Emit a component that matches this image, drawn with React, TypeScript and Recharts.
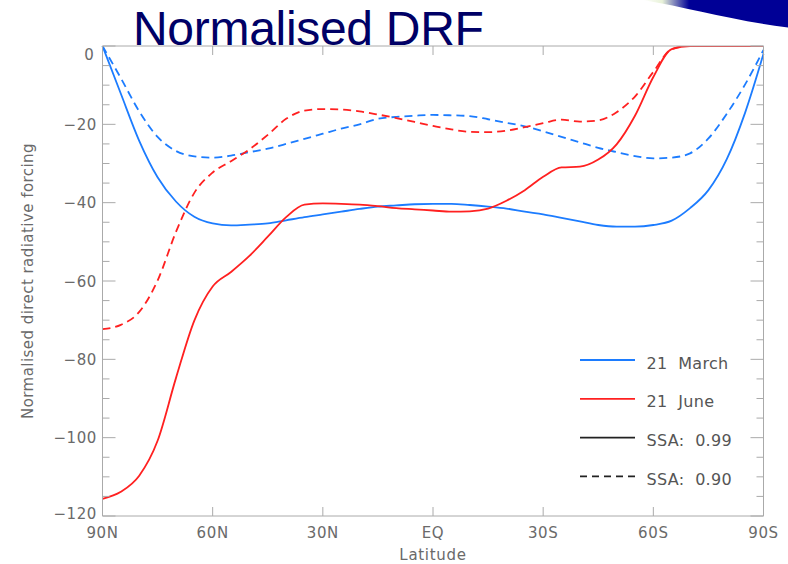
import React from 'react';
import { LineChart, Line, XAxis, YAxis, Legend, Customized } from 'recharts';

// Latitude from 90N (left) to 90S (right)
const latitude = [90, 85, 80, 75, 70, 65, 60, 55, 50, 45, 40, 35, 30, 25, 20, 15, 10, 5, 0,
  -5, -10, -15, -20, -25, -30, -35, -40, -45, -50, -55, -60, -65, -70, -75, -80, -85, -90];

// 21 March, SSA 0.99 (solid blue)
const march099 = [0, -12.2, -24.2, -33.5, -39.7, -43.6, -45.3, -45.8, -45.6, -45.3, -44.5, -43.7,
  -43.0, -42.3, -41.6, -41.0, -40.7, -40.4, -40.3, -40.3, -40.6, -41.0, -41.5, -42.3,
  -43.0, -43.9, -44.8, -45.7, -46.1, -46.1, -45.7, -44.6, -41.4, -36.8, -28.9, -17.0, -2.0];

// 21 March, SSA 0.90 (dashed blue)
const march090 = [0, -8.2, -16.7, -23.2, -26.8, -28.2, -28.5, -28.0, -27.1, -26.2, -25.0, -23.7,
  -22.4, -21.1, -20.0, -18.6, -18.1, -17.8, -17.6, -17.7, -17.9, -18.7, -19.6, -20.5,
  -21.8, -23.2, -24.6, -26.0, -27.1, -28.1, -28.7, -28.5, -27.4, -23.6, -17.3, -9.8, -1.0];

// 21 June, SSA 0.99 (solid red)
const june099 = [-115.6, -113.8, -109.7, -100.8, -84.8, -70.1, -61.4, -57.7, -53.6, -48.7, -43.7, -40.5,
  -40.2, -40.3, -40.5, -40.9, -41.4, -41.7, -42.0, -42.3, -42.2, -41.5, -39.5, -36.8,
  -33.4, -31.0, -30.8, -29.0, -25.1, -17.8, -7.9, -0.8, 0, 0, 0, 0, 0];

// 21 June, SSA 0.90 (dashed red)
const june090 = [-72.3, -71.2, -67.9, -59.9, -47.5, -37.5, -32.3, -29.4, -26.4, -22.7, -18.6, -16.5,
  -16.1, -16.2, -16.7, -17.5, -18.4, -19.4, -20.4, -21.3, -21.9, -22.0, -21.6, -20.7,
  -19.7, -18.8, -19.3, -19.0, -16.9, -12.9, -6.6, -0.8, 0, 0, 0, 0, 0];

const xTickValues = [90, 60, 30, 0, -30, -60, -90];
const xTickLabels = ['90N', '60N', '30N', 'EQ', '30S', '60S', '90S'];
const yTickValues = [0, -5, -10, -15, -20, -25, -30, -35, -40, -45, -50, -55, -60, -65, -70, -75,
  -80, -85, -90, -95, -100, -105, -110, -115, -120];
const yMajorValues = [0, -20, -40, -60, -80, -100, -120];
const yMajorLabels = ['0', '\u221220', '\u221240', '\u221260', '\u221280', '\u2212100', '\u2212120'];

const legendLabels = ['21  March', '21  June', 'SSA:  0.99', 'SSA:  0.90'];
const BLUE = '#1c7cff';
const RED = '#ff2020';
const legendColors = [BLUE, RED, '#222222', '#222222'];
const legendDashed = [false, false, false, true];

const FRAME = '#aaaaaa';
const TEXT = '#6a6a6a';
const FONT = '"DejaVu Sans", Verdana, sans-serif';

const data = latitude.map((lat, i) => ({
  lat,
  m99: march099[i],
  m90: march090[i],
  j99: june099[i],
  j90: june090[i],
}));

const LeftTick = (props: any) => {
  const { x, y, payload } = props;
  const v = payload.value;
  const mi = yMajorValues.indexOf(v);
  const major = mi >= 0;
  let dy = 5.5;
  let dx = -5.5;
  if (v === 0) { dy = 14; dx = -8; }
  if (v === -120) { dy = 2.5; }
  return (
    <g>
      <line x1={x} x2={x + (major ? 13 : 7)} y1={y} y2={y} stroke={FRAME} strokeWidth={1} />
      {major && (
        <text x={x + dx} y={y + dy} textAnchor="end" fill={TEXT} fontSize={15}
          fontFamily={FONT} letterSpacing={0.6}>{yMajorLabels[mi]}</text>
      )}
    </g>
  );
};

const RightTick = (props: any) => {
  const { x, y, payload } = props;
  const major = yMajorValues.indexOf(payload.value) >= 0;
  return <line x1={x} x2={x - (major ? 13 : 7)} y1={y} y2={y} stroke={FRAME} strokeWidth={1} />;
};

const TopTick = (props: any) => {
  const { x, y } = props;
  return <line x1={x} x2={x} y1={y} y2={y + 9} stroke={FRAME} strokeWidth={1} />;
};

const BottomTick = (props: any) => {
  const { x, y, payload } = props;
  const i = xTickValues.indexOf(payload.value);
  return (
    <g>
      <line x1={x} x2={x} y1={y} y2={y - 9} stroke={FRAME} strokeWidth={1} />
      <text x={x} y={y + 22} textAnchor="middle" fill={TEXT} fontSize={15}
        fontFamily={FONT} letterSpacing={0.6}>{xTickLabels[i]}</text>
    </g>
  );
};

const LegendContent = () => (
  <svg width={200} height={160} style={{ display: 'block', overflow: 'visible' }}>
    {legendLabels.map((label, i) => {
      const cy = 15 + i * 38.8;
      return (
        <g key={label}>
          <line x1={10} x2={65} y1={cy} y2={cy} stroke={legendColors[i]} strokeWidth={1.8}
            strokeDasharray={legendDashed[i] ? '7 5' : undefined} />
          <text x={76.5} y={cy + 8.5} fill="#555555" fontSize={16} fontFamily={FONT}
            letterSpacing={0.3} style={{ whiteSpace: 'pre' }}>{label}</text>
        </g>
      );
    })}
  </svg>
);

const Decorations = () => (
  <g>
    <defs>
      <linearGradient id="swoosh" x1="643" y1="0" x2="720" y2="0" gradientUnits="userSpaceOnUse">
        <stop offset="0" stopColor="#ffffff" />
        <stop offset="0.25" stopColor="#e8f2d8" />
        <stop offset="0.6" stopColor="#000096" />
        <stop offset="1" stopColor="#000096" />
      </linearGradient>
    </defs>
    <path d="M 643 0 C 690 8, 730 20, 788 27.5 L 788 0 Z" fill="url(#swoosh)" />
    <text x={133} y={44.5} fill="#000066" fontSize={48} letterSpacing={-0.3}
      fontFamily='"Liberation Sans", Arial, sans-serif'>Normalised DRF</text>
  </g>
);

const YLabel = (props: any) => {
  const vb = props.viewBox || { x: 42.5, y: 46, width: 60, height: 470 };
  const x = vb.x + vb.width - 69.5;
  const y = vb.y + vb.height / 2;
  return (
    <text x={x} y={y} transform={`rotate(-90, ${x}, ${y})`} textAnchor="middle" fill={TEXT}
      fontSize={15} fontFamily={FONT} letterSpacing={0.45}>Normalised direct radiative forcing</text>
  );
};

const XLabel = (props: any) => {
  const vb = props.viewBox || { x: 102.5, y: 516, width: 661, height: 48 };
  return (
    <text x={vb.x + vb.width / 2} y={vb.y + 43.5} textAnchor="middle" fill={TEXT}
      fontSize={15} fontFamily={FONT} letterSpacing={0.7}>Latitude</text>
  );
};

export default function App() {
  return (
    <div style={{ position: 'absolute', left: 0, top: 0, width: 788, height: 564, background: '#ffffff' }}>
      <LineChart width={788} height={564} data={data}
        margin={{ top: 36, right: 14.5, bottom: 0, left: 42.5 }}>
        <Customized component={Decorations} />
        <XAxis xAxisId="b" dataKey="lat" type="number" domain={[-90, 90]} reversed
          ticks={xTickValues} interval={0} height={48} tickLine={false} tickSize={0} tickMargin={0}
          axisLine={{ stroke: FRAME }} tick={BottomTick} label={{ content: XLabel }} />
        <XAxis xAxisId="t" orientation="top" dataKey="lat" type="number" domain={[-90, 90]} reversed
          ticks={xTickValues} interval={0} height={10} tickLine={false} tickSize={0} tickMargin={0}
          axisLine={{ stroke: FRAME }} tick={TopTick} />
        <YAxis yAxisId="l" type="number" domain={[-120, 0]} ticks={yTickValues} interval={0}
          width={60} tickLine={false} tickSize={0} tickMargin={0} axisLine={{ stroke: FRAME }}
          tick={LeftTick} allowDataOverflow label={{ content: YLabel }} />
        <YAxis yAxisId="r" orientation="right" type="number" domain={[-120, 0]} ticks={yTickValues}
          interval={0} width={10} tickLine={false} tickSize={0} tickMargin={0}
          axisLine={{ stroke: FRAME }} tick={RightTick} allowDataOverflow />
        <Line xAxisId="b" yAxisId="l" type="monotone" dataKey="m99" name="21 March SSA 0.99"
          stroke={BLUE} strokeWidth={1.8} dot={false} isAnimationActive={false} />
        <Line xAxisId="b" yAxisId="l" type="monotone" dataKey="m90" name="21 March SSA 0.90"
          stroke={BLUE} strokeWidth={1.8} strokeDasharray="8 5" dot={false} isAnimationActive={false} />
        <Line xAxisId="b" yAxisId="l" type="monotone" dataKey="j99" name="21 June SSA 0.99"
          stroke={RED} strokeWidth={1.8} dot={false} isAnimationActive={false} />
        <Line xAxisId="b" yAxisId="l" type="monotone" dataKey="j90" name="21 June SSA 0.90"
          stroke={RED} strokeWidth={1.8} strokeDasharray="8 5" dot={false} isAnimationActive={false} />
        <Legend layout="horizontal" verticalAlign="middle" align="center" content={LegendContent}
          wrapperStyle={{ position: 'absolute', left: 570, top: 345, width: 200, height: 160 }} />
      </LineChart>
    </div>
  );
}
